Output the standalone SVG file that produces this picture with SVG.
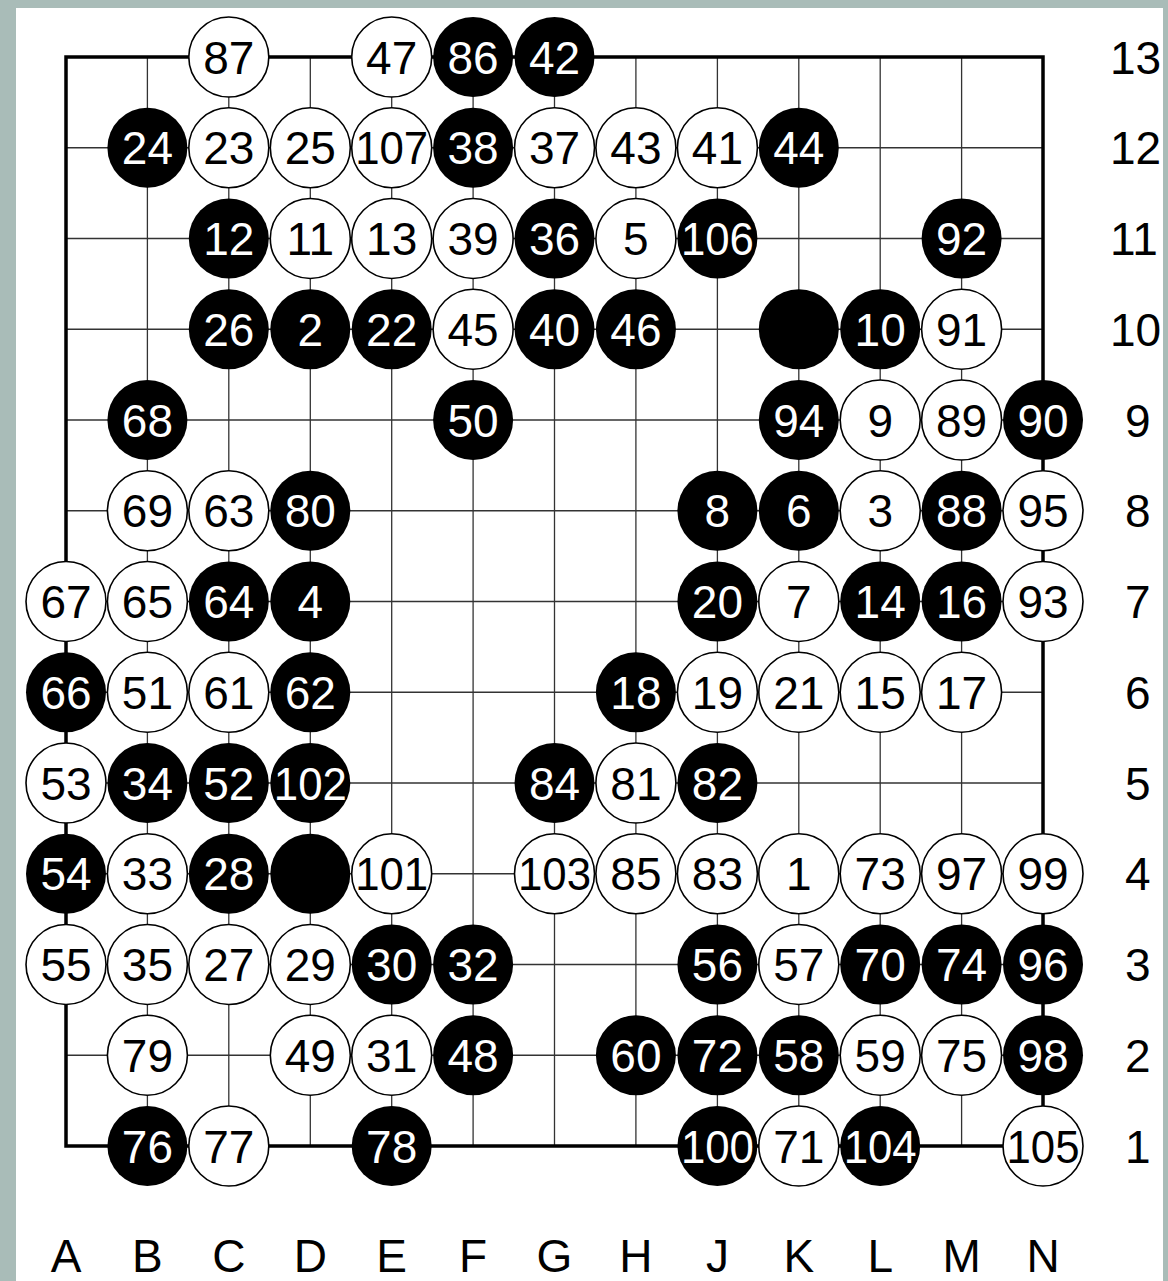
<svg xmlns="http://www.w3.org/2000/svg" width="1168" height="1281" viewBox="0 0 1168 1281">
<style>
text{font-family:"Liberation Sans",Arial,Helvetica,sans-serif;font-size:46px;text-anchor:middle}
.w circle{fill:#fff;stroke:#000;stroke-width:1.6}
.w text{fill:#000}
.b circle{fill:#000}
.b text{fill:#fff}
.grid line{stroke:#333;stroke-width:1.3}
.lbl{fill:#000}
.rl{text-anchor:start}
</style>
<rect x="0" y="0" width="1168" height="1281" fill="#a9bcb8"/>
<rect x="16" y="8" width="1147" height="1273" fill="#fff"/>
<g id="grid" class="grid">
<line x1="147.4" y1="57" x2="147.4" y2="1146"/>
<line x1="228.8" y1="57" x2="228.8" y2="1146"/>
<line x1="310.3" y1="57" x2="310.3" y2="1146"/>
<line x1="391.7" y1="57" x2="391.7" y2="1146"/>
<line x1="473.1" y1="57" x2="473.1" y2="1146"/>
<line x1="554.5" y1="57" x2="554.5" y2="1146"/>
<line x1="635.9" y1="57" x2="635.9" y2="1146"/>
<line x1="717.4" y1="57" x2="717.4" y2="1146"/>
<line x1="798.8" y1="57" x2="798.8" y2="1146"/>
<line x1="880.2" y1="57" x2="880.2" y2="1146"/>
<line x1="961.6" y1="57" x2="961.6" y2="1146"/>
<line x1="66" y1="147.75" x2="1043" y2="147.75"/>
<line x1="66" y1="238.5" x2="1043" y2="238.5"/>
<line x1="66" y1="329.25" x2="1043" y2="329.25"/>
<line x1="66" y1="420" x2="1043" y2="420"/>
<line x1="66" y1="510.75" x2="1043" y2="510.75"/>
<line x1="66" y1="601.5" x2="1043" y2="601.5"/>
<line x1="66" y1="692.25" x2="1043" y2="692.25"/>
<line x1="66" y1="783" x2="1043" y2="783"/>
<line x1="66" y1="873.75" x2="1043" y2="873.75"/>
<line x1="66" y1="964.5" x2="1043" y2="964.5"/>
<line x1="66" y1="1055.25" x2="1043" y2="1055.25"/>
<rect x="66" y="57" width="977" height="1089" fill="none" stroke="#000" stroke-width="3.5"/>
</g>
<g id="stones">
<g id="C13" class="w"><circle cx="228.8" cy="57" r="40"/><text x="228.8" y="73.5">87</text></g>
<g id="E13" class="w"><circle cx="391.7" cy="57" r="40"/><text x="391.7" y="73.5">47</text></g>
<g id="F13" class="b"><circle cx="473.1" cy="57" r="40"/><text x="473.1" y="73.5">86</text></g>
<g id="G13" class="b"><circle cx="554.5" cy="57" r="40"/><text x="554.5" y="73.5">42</text></g>

<g id="B12" class="b"><circle cx="147.4" cy="147.75" r="40"/><text x="147.4" y="164.25">24</text></g>
<g id="C12" class="w"><circle cx="228.8" cy="147.75" r="40"/><text x="228.8" y="164.25">23</text></g>
<g id="D12" class="w"><circle cx="310.3" cy="147.75" r="40"/><text x="310.3" y="164.25">25</text></g>
<g id="E12" class="w"><circle cx="391.7" cy="147.75" r="40"/><text x="391.7" y="164.25" textLength="73" lengthAdjust="spacingAndGlyphs">107</text></g>
<g id="F12" class="b"><circle cx="473.1" cy="147.75" r="40"/><text x="473.1" y="164.25">38</text></g>
<g id="G12" class="w"><circle cx="554.5" cy="147.75" r="40"/><text x="554.5" y="164.25">37</text></g>
<g id="H12" class="w"><circle cx="635.9" cy="147.75" r="40"/><text x="635.9" y="164.25">43</text></g>
<g id="J12" class="w"><circle cx="717.4" cy="147.75" r="40"/><text x="717.4" y="164.25">41</text></g>
<g id="K12" class="b"><circle cx="798.8" cy="147.75" r="40"/><text x="798.8" y="164.25">44</text></g>

<g id="C11" class="b"><circle cx="228.8" cy="238.5" r="40"/><text x="228.8" y="255">12</text></g>
<g id="D11" class="w"><circle cx="310.3" cy="238.5" r="40"/><text x="310.3" y="255">11</text></g>
<g id="E11" class="w"><circle cx="391.7" cy="238.5" r="40"/><text x="391.7" y="255">13</text></g>
<g id="F11" class="w"><circle cx="473.1" cy="238.5" r="40"/><text x="473.1" y="255">39</text></g>
<g id="G11" class="b"><circle cx="554.5" cy="238.5" r="40"/><text x="554.5" y="255">36</text></g>
<g id="H11" class="w"><circle cx="635.9" cy="238.5" r="40"/><text x="635.9" y="255">5</text></g>
<g id="J11" class="b"><circle cx="717.4" cy="238.5" r="40"/><text x="717.4" y="255" textLength="73" lengthAdjust="spacingAndGlyphs">106</text></g>
<g id="M11" class="b"><circle cx="961.6" cy="238.5" r="40"/><text x="961.6" y="255">92</text></g>

<g id="C10" class="b"><circle cx="228.8" cy="329.25" r="40"/><text x="228.8" y="345.75">26</text></g>
<g id="D10" class="b"><circle cx="310.3" cy="329.25" r="40"/><text x="310.3" y="345.75">2</text></g>
<g id="E10" class="b"><circle cx="391.7" cy="329.25" r="40"/><text x="391.7" y="345.75">22</text></g>
<g id="F10" class="w"><circle cx="473.1" cy="329.25" r="40"/><text x="473.1" y="345.75">45</text></g>
<g id="G10" class="b"><circle cx="554.5" cy="329.25" r="40"/><text x="554.5" y="345.75">40</text></g>
<g id="H10" class="b"><circle cx="635.9" cy="329.25" r="40"/><text x="635.9" y="345.75">46</text></g>
<g id="K10" class="b"><circle cx="798.8" cy="329.25" r="40"/></g>
<g id="L10" class="b"><circle cx="880.2" cy="329.25" r="40"/><text x="880.2" y="345.75">10</text></g>
<g id="M10" class="w"><circle cx="961.6" cy="329.25" r="40"/><text x="961.6" y="345.75">91</text></g>

<g id="B9" class="b"><circle cx="147.4" cy="420" r="40"/><text x="147.4" y="436.5">68</text></g>
<g id="F9" class="b"><circle cx="473.1" cy="420" r="40"/><text x="473.1" y="436.5">50</text></g>
<g id="K9" class="b"><circle cx="798.8" cy="420" r="40"/><text x="798.8" y="436.5">94</text></g>
<g id="L9" class="w"><circle cx="880.2" cy="420" r="40"/><text x="880.2" y="436.5">9</text></g>
<g id="M9" class="w"><circle cx="961.6" cy="420" r="40"/><text x="961.6" y="436.5">89</text></g>
<g id="N9" class="b"><circle cx="1043" cy="420" r="40"/><text x="1043" y="436.5">90</text></g>

<g id="B8" class="w"><circle cx="147.4" cy="510.75" r="40"/><text x="147.4" y="527.25">69</text></g>
<g id="C8" class="w"><circle cx="228.8" cy="510.75" r="40"/><text x="228.8" y="527.25">63</text></g>
<g id="D8" class="b"><circle cx="310.3" cy="510.75" r="40"/><text x="310.3" y="527.25">80</text></g>
<g id="J8" class="b"><circle cx="717.4" cy="510.75" r="40"/><text x="717.4" y="527.25">8</text></g>
<g id="K8" class="b"><circle cx="798.8" cy="510.75" r="40"/><text x="798.8" y="527.25">6</text></g>
<g id="L8" class="w"><circle cx="880.2" cy="510.75" r="40"/><text x="880.2" y="527.25">3</text></g>
<g id="M8" class="b"><circle cx="961.6" cy="510.75" r="40"/><text x="961.6" y="527.25">88</text></g>
<g id="N8" class="w"><circle cx="1043" cy="510.75" r="40"/><text x="1043" y="527.25">95</text></g>

<g id="A7" class="w"><circle cx="66" cy="601.5" r="40"/><text x="66" y="618">67</text></g>
<g id="B7" class="w"><circle cx="147.4" cy="601.5" r="40"/><text x="147.4" y="618">65</text></g>
<g id="C7" class="b"><circle cx="228.8" cy="601.5" r="40"/><text x="228.8" y="618">64</text></g>
<g id="D7" class="b"><circle cx="310.3" cy="601.5" r="40"/><text x="310.3" y="618">4</text></g>
<g id="J7" class="b"><circle cx="717.4" cy="601.5" r="40"/><text x="717.4" y="618">20</text></g>
<g id="K7" class="w"><circle cx="798.8" cy="601.5" r="40"/><text x="798.8" y="618">7</text></g>
<g id="L7" class="b"><circle cx="880.2" cy="601.5" r="40"/><text x="880.2" y="618">14</text></g>
<g id="M7" class="b"><circle cx="961.6" cy="601.5" r="40"/><text x="961.6" y="618">16</text></g>
<g id="N7" class="w"><circle cx="1043" cy="601.5" r="40"/><text x="1043" y="618">93</text></g>

<g id="A6" class="b"><circle cx="66" cy="692.25" r="40"/><text x="66" y="708.75">66</text></g>
<g id="B6" class="w"><circle cx="147.4" cy="692.25" r="40"/><text x="147.4" y="708.75">51</text></g>
<g id="C6" class="w"><circle cx="228.8" cy="692.25" r="40"/><text x="228.8" y="708.75">61</text></g>
<g id="D6" class="b"><circle cx="310.3" cy="692.25" r="40"/><text x="310.3" y="708.75">62</text></g>
<g id="H6" class="b"><circle cx="635.9" cy="692.25" r="40"/><text x="635.9" y="708.75">18</text></g>
<g id="J6" class="w"><circle cx="717.4" cy="692.25" r="40"/><text x="717.4" y="708.75">19</text></g>
<g id="K6" class="w"><circle cx="798.8" cy="692.25" r="40"/><text x="798.8" y="708.75">21</text></g>
<g id="L6" class="w"><circle cx="880.2" cy="692.25" r="40"/><text x="880.2" y="708.75">15</text></g>
<g id="M6" class="w"><circle cx="961.6" cy="692.25" r="40"/><text x="961.6" y="708.75">17</text></g>

<g id="A5" class="w"><circle cx="66" cy="783" r="40"/><text x="66" y="799.5">53</text></g>
<g id="B5" class="b"><circle cx="147.4" cy="783" r="40"/><text x="147.4" y="799.5">34</text></g>
<g id="C5" class="b"><circle cx="228.8" cy="783" r="40"/><text x="228.8" y="799.5">52</text></g>
<g id="D5" class="b"><circle cx="310.3" cy="783" r="40"/><text x="310.3" y="799.5" textLength="73" lengthAdjust="spacingAndGlyphs">102</text></g>
<g id="G5" class="b"><circle cx="554.5" cy="783" r="40"/><text x="554.5" y="799.5">84</text></g>
<g id="H5" class="w"><circle cx="635.9" cy="783" r="40"/><text x="635.9" y="799.5">81</text></g>
<g id="J5" class="b"><circle cx="717.4" cy="783" r="40"/><text x="717.4" y="799.5">82</text></g>

<g id="A4" class="b"><circle cx="66" cy="873.75" r="40"/><text x="66" y="890.25">54</text></g>
<g id="B4" class="w"><circle cx="147.4" cy="873.75" r="40"/><text x="147.4" y="890.25">33</text></g>
<g id="C4" class="b"><circle cx="228.8" cy="873.75" r="40"/><text x="228.8" y="890.25">28</text></g>
<g id="D4" class="b"><circle cx="310.3" cy="873.75" r="40"/></g>
<g id="E4" class="w"><circle cx="391.7" cy="873.75" r="40"/><text x="391.7" y="890.25" textLength="73" lengthAdjust="spacingAndGlyphs">101</text></g>
<g id="G4" class="w"><circle cx="554.5" cy="873.75" r="40"/><text x="554.5" y="890.25" textLength="73" lengthAdjust="spacingAndGlyphs">103</text></g>
<g id="H4" class="w"><circle cx="635.9" cy="873.75" r="40"/><text x="635.9" y="890.25">85</text></g>
<g id="J4" class="w"><circle cx="717.4" cy="873.75" r="40"/><text x="717.4" y="890.25">83</text></g>
<g id="K4" class="w"><circle cx="798.8" cy="873.75" r="40"/><text x="798.8" y="890.25">1</text></g>
<g id="L4" class="w"><circle cx="880.2" cy="873.75" r="40"/><text x="880.2" y="890.25">73</text></g>
<g id="M4" class="w"><circle cx="961.6" cy="873.75" r="40"/><text x="961.6" y="890.25">97</text></g>
<g id="N4" class="w"><circle cx="1043" cy="873.75" r="40"/><text x="1043" y="890.25">99</text></g>

<g id="A3" class="w"><circle cx="66" cy="964.5" r="40"/><text x="66" y="981">55</text></g>
<g id="B3" class="w"><circle cx="147.4" cy="964.5" r="40"/><text x="147.4" y="981">35</text></g>
<g id="C3" class="w"><circle cx="228.8" cy="964.5" r="40"/><text x="228.8" y="981">27</text></g>
<g id="D3" class="w"><circle cx="310.3" cy="964.5" r="40"/><text x="310.3" y="981">29</text></g>
<g id="E3" class="b"><circle cx="391.7" cy="964.5" r="40"/><text x="391.7" y="981">30</text></g>
<g id="F3" class="b"><circle cx="473.1" cy="964.5" r="40"/><text x="473.1" y="981">32</text></g>
<g id="J3" class="b"><circle cx="717.4" cy="964.5" r="40"/><text x="717.4" y="981">56</text></g>
<g id="K3" class="w"><circle cx="798.8" cy="964.5" r="40"/><text x="798.8" y="981">57</text></g>
<g id="L3" class="b"><circle cx="880.2" cy="964.5" r="40"/><text x="880.2" y="981">70</text></g>
<g id="M3" class="b"><circle cx="961.6" cy="964.5" r="40"/><text x="961.6" y="981">74</text></g>
<g id="N3" class="b"><circle cx="1043" cy="964.5" r="40"/><text x="1043" y="981">96</text></g>

<g id="B2" class="w"><circle cx="147.4" cy="1055.25" r="40"/><text x="147.4" y="1071.75">79</text></g>
<g id="D2" class="w"><circle cx="310.3" cy="1055.25" r="40"/><text x="310.3" y="1071.75">49</text></g>
<g id="E2" class="w"><circle cx="391.7" cy="1055.25" r="40"/><text x="391.7" y="1071.75">31</text></g>
<g id="F2" class="b"><circle cx="473.1" cy="1055.25" r="40"/><text x="473.1" y="1071.75">48</text></g>
<g id="H2" class="b"><circle cx="635.9" cy="1055.25" r="40"/><text x="635.9" y="1071.75">60</text></g>
<g id="J2" class="b"><circle cx="717.4" cy="1055.25" r="40"/><text x="717.4" y="1071.75">72</text></g>
<g id="K2" class="b"><circle cx="798.8" cy="1055.25" r="40"/><text x="798.8" y="1071.75">58</text></g>
<g id="L2" class="w"><circle cx="880.2" cy="1055.25" r="40"/><text x="880.2" y="1071.75">59</text></g>
<g id="M2" class="w"><circle cx="961.6" cy="1055.25" r="40"/><text x="961.6" y="1071.75">75</text></g>
<g id="N2" class="b"><circle cx="1043" cy="1055.25" r="40"/><text x="1043" y="1071.75">98</text></g>

<g id="B1" class="b"><circle cx="147.4" cy="1146" r="40"/><text x="147.4" y="1162.5">76</text></g>
<g id="C1" class="w"><circle cx="228.8" cy="1146" r="40"/><text x="228.8" y="1162.5">77</text></g>
<g id="E1" class="b"><circle cx="391.7" cy="1146" r="40"/><text x="391.7" y="1162.5">78</text></g>
<g id="J1" class="b"><circle cx="717.4" cy="1146" r="40"/><text x="717.4" y="1162.5" textLength="73" lengthAdjust="spacingAndGlyphs">100</text></g>
<g id="K1" class="w"><circle cx="798.8" cy="1146" r="40"/><text x="798.8" y="1162.5">71</text></g>
<g id="L1" class="b"><circle cx="880.2" cy="1146" r="40"/><text x="880.2" y="1162.5" textLength="73" lengthAdjust="spacingAndGlyphs">104</text></g>
<g id="N1" class="w"><circle cx="1043" cy="1146" r="40"/><text x="1043" y="1162.5" textLength="73" lengthAdjust="spacingAndGlyphs">105</text></g>
</g>
<g id="col-labels" class="lbl">
<text x="66" y="1272">A</text>
<text x="147.4" y="1272">B</text>
<text x="228.8" y="1272">C</text>
<text x="310.3" y="1272">D</text>
<text x="391.7" y="1272">E</text>
<text x="473.1" y="1272">F</text>
<text x="554.5" y="1272">G</text>
<text x="635.9" y="1272">H</text>
<text x="717.4" y="1272">J</text>
<text x="798.8" y="1272">K</text>
<text x="880.2" y="1272">L</text>
<text x="961.6" y="1272">M</text>
<text x="1043" y="1272">N</text>
</g>
<rect x="1163" y="0" width="5" height="1281" fill="#a9bcb8"/>
<g id="row-labels" class="lbl">
<text class="rl" x="1110" y="73.5">13</text>
<text class="rl" x="1110" y="164.25">12</text>
<text class="rl" x="1110" y="255">11</text>
<text class="rl" x="1110" y="345.75">10</text>
<text class="rl" x="1125" y="436.5">9</text>
<text class="rl" x="1125" y="527.25">8</text>
<text class="rl" x="1125" y="618">7</text>
<text class="rl" x="1125" y="708.75">6</text>
<text class="rl" x="1125" y="799.5">5</text>
<text class="rl" x="1125" y="890.25">4</text>
<text class="rl" x="1125" y="981">3</text>
<text class="rl" x="1125" y="1071.75">2</text>
<text class="rl" x="1125" y="1162.5">1</text>
</g>
</svg>
